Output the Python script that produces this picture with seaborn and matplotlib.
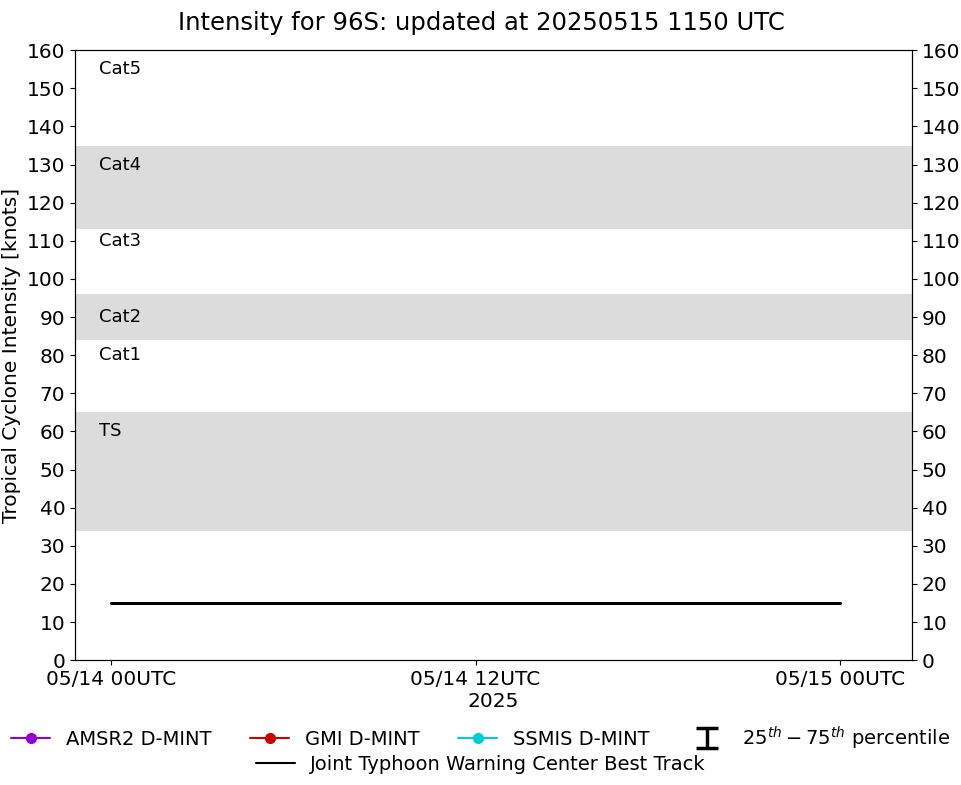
import pandas as pd
import numpy as np
import matplotlib
matplotlib.use('Agg')
import matplotlib.pyplot as plt
import matplotlib.dates as mdates
from matplotlib.lines import Line2D
import seaborn as sns

sns.set_style('ticks', rc={'text.color': 'black', 'axes.labelcolor': 'black',
                           'xtick.color': 'black', 'ytick.color': 'black',
                           'axes.edgecolor': 'black'})
plt.rcParams['font.family'] = ['DejaVu Sans']

# Best track (JTWC)
bt_times = ['2025-05-14 00:00', '2025-05-14 06:00', '2025-05-14 12:00',
            '2025-05-14 18:00', '2025-05-15 00:00']
bt_vmax = [15, 15, 15, 15, 15]

# intensity bands (gray) and category labels
bands = [(34, 65), (84, 96), (113, 135)]
cat_names = ['TS', 'Cat1', 'Cat2', 'Cat3', 'Cat4', 'Cat5']
cat_y = [60, 80, 90, 110, 130, 155]

tick_times = ['2025-05-14 00:00', '2025-05-14 12:00', '2025-05-15 00:00']

df = pd.DataFrame({'time': pd.to_datetime(bt_times), 'vmax': bt_vmax})

fig = plt.figure(figsize=(9.62, 7.85), dpi=100)
ax = fig.add_axes([0.078, 0.159, 0.870, 0.777])

for lo, hi in bands:
    ax.axhspan(lo, hi, color='#dcdcdc', zorder=0, lw=0)

sns.lineplot(data=df, x='time', y='vmax', color='black', linewidth=2.2,
             ax=ax, legend=False)

for name, yv in zip(cat_names, cat_y):
    ax.text(0.029, yv, name, transform=ax.get_yaxis_transform(),
            fontsize=13, va='center', ha='left')

t0 = pd.Timestamp('2025-05-14 00:00')
ax.set_xlim(t0 - pd.Timedelta(hours=1.19), t0 + pd.Timedelta(hours=26.37))
ax.set_ylim(0, 160)
ax.set_yticks(np.arange(0, 161, 10))
ax.set_xticks(pd.to_datetime(tick_times))
ax.xaxis.set_major_formatter(mdates.DateFormatter('%m/%d %HUTC'))
ax.tick_params(labelsize=14.5)
ax.set_xlabel('2025', fontsize=14.5, labelpad=2)
ax.set_ylabel('Tropical Cyclone Intensity [knots]', fontsize=14.5)

ax2 = ax.twinx()
ax2.set_ylim(0, 160)
ax2.set_yticks(np.arange(0, 161, 10))
ax2.tick_params(labelsize=14.5)

fig.suptitle('Intensity for 96S: updated at 20250515 1150 UTC',
             fontsize=17.5, x=0.5, y=0.971, va='center')

# legend
h_amsr = Line2D([], [], color='#9400d3', marker='o', markersize=7, lw=1.5)
h_gmi = Line2D([], [], color='#cc0000', marker='o', markersize=7, lw=1.5)
h_ssmis = Line2D([], [], color='#00ced1', marker='o', markersize=7, lw=1.5)
h_pct = ax.errorbar([np.nan], [np.nan], yerr=[[np.nan], [np.nan]], fmt='none',
                    ecolor='black', elinewidth=2.5, capsize=8, capthick=2.5)
h_bt = Line2D([], [], color='black', lw=1.5)

fig.legend([h_amsr, h_gmi, h_ssmis, h_pct],
           ['AMSR2 D-MINT', 'GMI D-MINT', 'SSMIS D-MINT',
            r'$25^{th}-75^{th}$ percentile'],
           ncol=4, loc='center', bbox_to_anchor=(0.5, 0.06),
           frameon=False, fontsize=14, borderpad=0, handletextpad=0.8)
fig.legend([h_bt], ['Joint Typhoon Warning Center Best Track'],
           loc='center', bbox_to_anchor=(0.5, 0.026),
           frameon=False, fontsize=14, borderpad=0, handletextpad=0.8)

fig.savefig('out.png', dpi=100)
